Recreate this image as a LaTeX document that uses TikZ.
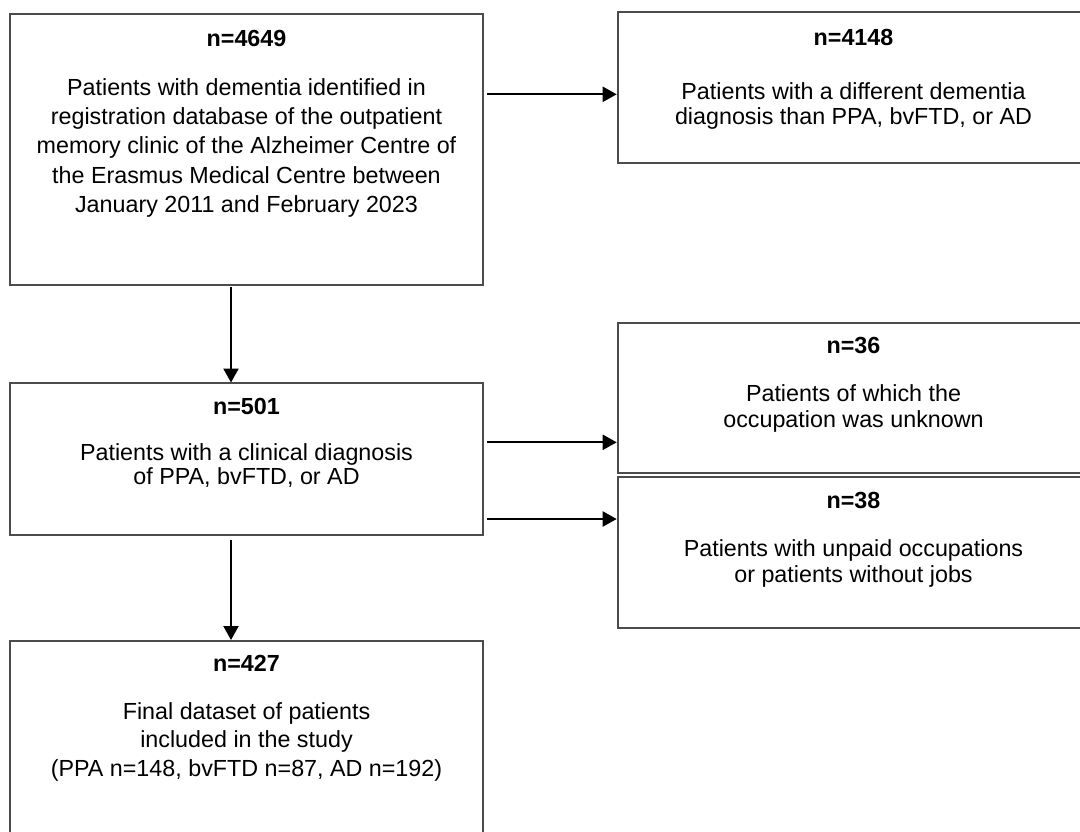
\documentclass[tikz,border=0pt]{standalone}
\usepackage{fontspec}
\setmainfont{Liberation Sans}
\usetikzlibrary{arrows.meta}
\begin{document}
\begin{tikzpicture}[x=1pt,y=1pt,
  box/.style={draw=black!70,line width=1.3pt,rectangle,inner sep=0pt,outer sep=0pt},
  hd/.style={anchor=base,inner sep=0pt,font=\fontsize{23.3}{28}\selectfont\bfseries},
  tx/.style={anchor=base,inner sep=0pt,font=\fontsize{23.3}{28}\selectfont},
  arr/.style={line width=2.2pt,-{Triangle[length=14pt,width=15pt]}}]
\useasboundingbox (0,0) rectangle (1080,-831);
\fill[white] (0,0) rectangle (1080,-831);
% boxes
\node[box,minimum width=473pt,minimum height=271pt] (b1) at (246.5,-149.5) {};
\node[box,minimum width=471pt,minimum height=151pt] (b2) at (853.5,-87.5) {};
\node[box,minimum width=473pt,minimum height=152pt] (b3) at (246.5,-459) {};
\node[box,minimum width=471pt,minimum height=150pt] (b4) at (853.5,-398) {};
\node[box,minimum width=471pt,minimum height=151pt] (b5) at (853.5,-552.5) {};
\node[box,minimum width=473pt,minimum height=259pt] (b6) at (246.5,-770.5) {};
% texts box 1
\node[hd] (t1h) at (246.5,-46) {n=4649};
\node[tx] (t1a) at (246.5,-95) {Patients with dementia identified in};
\node[tx] (t1b) at (246.5,-124.4) {registration database of the outpatient};
\node[tx] (t1c) at (246.5,-153.8) {memory clinic of the Alzheimer Centre of};
\node[tx] (t1d) at (246.5,-183.2) {the Erasmus Medical Centre between};
\node[tx] (t1e) at (246.5,-212.6) {January 2011 and February 2023};
% box 2
\node[hd] (t2h) at (853.5,-45) {n=4148};
\node[tx] (t2a) at (853.5,-99) {Patients with a different dementia};
\node[tx] (t2b) at (853.5,-124) {diagnosis than PPA, bvFTD, or AD};
% box 3
\node[hd] (t3h) at (246.5,-414.5) {n=501};
\node[tx] (t3a) at (246.5,-460.5) {Patients with a clinical diagnosis};
\node[tx] (t3b) at (246.5,-484.5) {of PPA, bvFTD, or AD};
% box 4
\node[hd] (t4h) at (853.5,-353) {n=36};
\node[tx] (t4a) at (853.5,-401) {Patients of which the};
\node[tx] (t4b) at (853.5,-427.5) {occupation was unknown};
% box 5
\node[hd] (t5h) at (853.5,-508) {n=38};
\node[tx] (t5a) at (853.5,-556) {Patients with unpaid occupations};
\node[tx] (t5b) at (853.5,-582.5) {or patients without jobs};
% box 6
\node[hd] (t6h) at (246.5,-671) {n=427};
\node[tx] (t6a) at (246.5,-719.5) {Final dataset of patients};
\node[tx] (t6b) at (246.5,-747.8) {included in the study};
\node[tx] (t6c) at (246.5,-776.1) {(PPA n=148, bvFTD n=87, AD n=192)};
% arrows
\coordinate (h1) at (0,-94.3);
\coordinate (h2) at (0,-442.3);
\coordinate (h3) at (0,-519);
\coordinate (v1) at (231,0);
\draw[arr,shorten <=3.5pt,shorten >=1.3pt] (b1.east |- h1) -- (b2.west |- h1);
\draw[arr,shorten <=3.5pt,shorten >=1.3pt] (b3.east |- h2) -- (b4.west |- h2);
\draw[arr,shorten <=3.5pt,shorten >=1.3pt] (b3.east |- h3) -- (b5.west |- h3);
\draw[arr,shorten <=2pt,shorten >=0.5pt] (b1.south -| v1) -- (b3.north -| v1);
\draw[arr,shorten <=5pt,shorten >=1pt] (b3.south -| v1) -- (b6.north -| v1);
\end{tikzpicture}
\end{document}
